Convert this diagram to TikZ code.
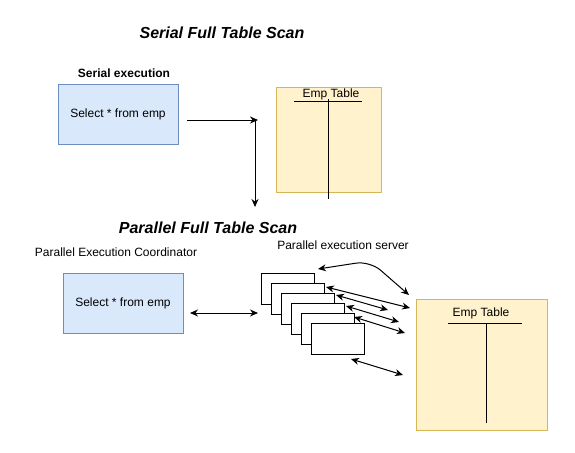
\documentclass[tikz,border=0pt]{standalone}
\usepackage{fontspec}
\setmainfont{Liberation Sans}
\usetikzlibrary{arrows.meta}
\definecolor{qfill}{HTML}{DAE8FC}
\definecolor{qline}{HTML}{6C8EBF}
\definecolor{tfill}{HTML}{FFF2CC}
\definecolor{tline}{HTML}{D6B656}
\tikzset{
    query/.style = {draw=qline, fill=qfill, line width=1pt, minimum width=120pt, minimum height=60pt, font=\fontsize{12}{14}\selectfont},
    emptab/.style = {draw=tline, fill=tfill, line width=1pt, inner sep=0pt},
    server/.style = {draw, fill=white, line width=1pt, minimum width=53pt, minimum height=31pt, inner sep=0pt},
    onehead/.style = {line width=1pt, -{Stealth[length=8pt,width=7pt]}},
    twohead/.style = {line width=1pt, {Stealth[length=8pt,width=7pt]}-{Stealth[length=8pt,width=7pt]}},
    heading/.style = {font=\fontsize{16}{18}\selectfont\bfseries\itshape},
    caption/.style = {font=\fontsize{12}{14}\selectfont}
}
\begin{document}
\begin{tikzpicture}[x=1pt, y=-1pt]
    \useasboundingbox (0,0) rectangle (575,452);

    \node[heading] (serTitle) at (222,33) {Serial Full Table Scan};
    \node[caption, font=\fontsize{12}{14}\selectfont\bfseries] (serCap) at (124,73) {Serial execution};
    \node[query] (serQuery) at (118,114) {Select * from emp};
    \node[emptab, minimum size=105pt] (serTable) at (328.5,139.5) {};
    \node[caption] (serName) at (331,94) {Emp Table};
    \coordinate (serL) at (294,101);
    \coordinate (serR) at (362,101);
    \coordinate (serTop) at (328,99);
    \coordinate (serBot) at (328,199);
    \draw[line width=1pt] (serL) -- (serR);
    \draw[line width=1pt] (serTop) -- (serBot);
    \coordinate (serOut) at (187,120);
    \coordinate (serIn) at (258,120);
    \coordinate (serFrom) at (255,120);
    \coordinate (serTo) at (255,207);
    \draw[onehead] (serOut) -- (serIn);
    \draw[onehead] (serFrom) -- (serTo);

    \node[heading] (parTitle) at (208,228) {Parallel Full Table Scan};
    \node[caption] (parCap) at (116,252) {Parallel Execution Coordinator};
    \node[caption] (srvCap) at (343,245) {Parallel execution server};
    \node[query] (parQuery) at (123,303) {Select * from emp};
    \coordinate (parOut) at (190,313);
    \coordinate (parIn) at (258,313);
    \draw[twohead] (parOut) -- (parIn);
    \foreach \i in {0,...,5}
        \node[server] (srv\i) at (287.5+10*\i,288.5+10*\i) {};
    \node[emptab, minimum size=131pt] (parTable) at (481.5,364.5) {};
    \node[caption] (parName) at (481,313) {Emp Table};
    \coordinate (parL) at (448,323);
    \coordinate (parR) at (522,323);
    \coordinate (parTop) at (486,323);
    \coordinate (parBot) at (486,423);
    \draw[line width=1pt] (parL) -- (parR);
    \draw[line width=1pt] (parTop) -- (parBot);

    \coordinate (curA) at (318,269);
    \coordinate (curB) at (370,261);
    \coordinate (curC) at (409,295);
    \draw[twohead, rounded corners=14pt] (curA) -- (curB) -- (curC);
    \foreach \n/\a/\b in {1/{326,287}/{410,308}, 2/{336,295}/{388,310}, 3/{346,306}/{399,322}, 4/{354,317}/{405,333}, 5/{351,359}/{403,375}} {
        \coordinate (fromA\n) at (\a);
        \coordinate (toT\n) at (\b);
        \draw[twohead] (fromA\n) -- (toT\n);
    }
\end{tikzpicture}
\end{document}
